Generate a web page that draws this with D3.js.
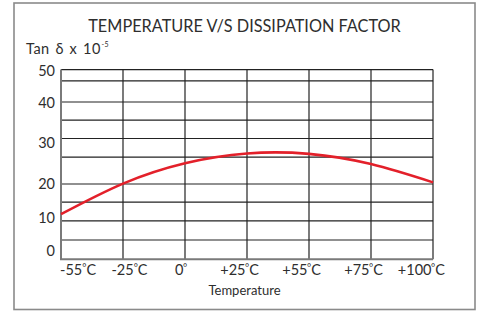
<!DOCTYPE html>
<html>
<head>
<meta charset="utf-8">
<script src="https://cdn.jsdelivr.net/npm/d3@7"></script>
<style>
  html, body { margin: 0; padding: 0; background: #fff; }
  svg { display: block; }
  text { font-family: Lato, "Open Sans", sans-serif; fill: #2e2e2e; }
</style>
</head>
<body>
<svg id="chart" width="479" height="311"></svg>
<script>
// ---- data ----
const title = "TEMPERATURE V/S DISSIPATION FACTOR";
const yAxisTitle = "Tan δ x 10";
const yAxisExponent = "-5";
const xAxisTitle = "Temperature";
const categories = ["-55", "-25", "0", "+25", "+55", "+75", "+100"];
const categoryUnits = ["°C", "°C", "°", "°C", "°C", "°C", "°C"];
const dissipation = [11.2, 20.1, 25.1, 27.5, 27.4, 24.9, 20.4];
const yTickValues = [0, 10, 20, 30, 40, 50];
const yTickLabels = ["0", "10", "20", "30", "40", "50"];
// horizontal grid lines as drawn in the source (irregular spacing)
const yGridValues = [3.3, 9.2, 14.7, 20, 26.6, 31.2, 35.8, 40.4, 46.9];
const yFrame = [-2.65, 50.35];

// ---- layout ----
const svg = d3.select("#chart");
const plotLeft = 61, plotRight = 433;

// The source axis is not evenly spaced; anchor scale on its printed labels
const y = d3.scaleLinear()
  .domain(yTickValues)
  .range([250.7, 218.3, 184, 143.3, 103.3, 70.7]);
const x = d3.scalePoint().domain(categories).range([plotLeft, plotRight]);

const plotTop = y(yFrame[1]), plotBottom = y(yFrame[0]);

// outer border
svg.append("rect")
  .attr("x", 14).attr("y", 3).attr("width", 461).attr("height", 306.5)
  .attr("fill", "none").attr("stroke", "#8a8a8a").attr("stroke-width", 1.6);

// title
svg.append("text")
  .attr("x", 244.5).attr("y", 32)
  .attr("text-anchor", "middle")
  .attr("font-size", 16.3)
  .text(title);

// y axis title
const yt = svg.append("text").attr("x", 26).attr("y", 53.5).attr("font-size", 14.5)
  .attr("letter-spacing", 0.5).attr("word-spacing", 1.5);
yt.append("tspan").text(yAxisTitle);
yt.append("tspan").attr("font-size", 7).attr("dy", -7).attr("dx", 0.5).text(yAxisExponent);

// horizontal grid lines
svg.append("g").selectAll("line")
  .data(yGridValues.concat([yFrame[1]]))
  .join("line")
  .attr("x1", plotLeft).attr("x2", plotRight)
  .attr("y1", d => y(d)).attr("y2", d => y(d))
  .attr("stroke", "#222").attr("stroke-width", 1.2);

// vertical grid lines
svg.append("g").selectAll("line")
  .data(categories.slice(1))
  .join("line")
  .attr("x1", d => x(d)).attr("x2", d => x(d))
  .attr("y1", plotTop).attr("y2", plotBottom)
  .attr("stroke", "#222").attr("stroke-width", 1.2);

// left axis labels
const yAxis = d3.axisLeft(y).tickValues(yTickValues)
  .tickFormat((d, i) => yTickLabels[i]).tickSize(0).tickPadding(6);
const gy = svg.append("g").attr("transform", `translate(${plotLeft},0)`).call(yAxis);
gy.select(".domain").remove();
gy.selectAll("text").attr("font-size", 14.5).attr("fill", "#2e2e2e")
  .attr("font-family", "Lato, 'Open Sans', sans-serif");

// left and bottom axis lines (gray)
svg.append("line").attr("x1", plotLeft).attr("x2", plotLeft).attr("y1", plotTop).attr("y2", plotBottom)
  .attr("stroke", "#7a7a7a").attr("stroke-width", 2);
svg.append("line").attr("x1", plotLeft - 1).attr("x2", plotRight).attr("y1", plotBottom).attr("y2", plotBottom)
  .attr("stroke", "#7a7a7a").attr("stroke-width", 2);

// x labels: degree sign mostly aligned on the grid line
const xl = svg.append("g");
function addUnit(t, unit) {
  t.append("tspan").attr("font-size", 10).attr("dy", -4).text("°");
  if (unit.length > 1) t.append("tspan").attr("dy", 4).text(unit.slice(1));
}
categories.forEach((c, i) => {
  const px = x(c);
  const fs = 14.5;
  if (i === 0) {
    const t = xl.append("text").attr("y", 275).attr("font-size", fs)
      .attr("x", plotLeft - 1).attr("text-anchor", "start");
    t.append("tspan").text(c);
    addUnit(t, categoryUnits[i]);
  } else if (i === 1) {
    const t = xl.append("text").attr("y", 275).attr("font-size", fs)
      .attr("x", px + 6.5).attr("text-anchor", "middle");
    t.append("tspan").text(c);
    addUnit(t, categoryUnits[i]);
  } else {
    xl.append("text").attr("y", 275).attr("font-size", fs)
      .attr("x", px - 1.5).attr("text-anchor", "end").text(c);
    const u = xl.append("text").attr("x", px - 2).attr("y", 275).attr("font-size", fs);
    addUnit(u, categoryUnits[i]);
  }
});

// x axis title
svg.append("text")
  .attr("x", 244.5).attr("y", 295)
  .attr("text-anchor", "middle").attr("font-size", 13)
  .text(xAxisTitle);

// curve
const line = d3.line()
  .x((d, i) => x(categories[i]))
  .y(d => y(d))
  .curve(d3.curveNatural);
svg.append("path")
  .datum(dissipation)
  .attr("d", line)
  .attr("fill", "none")
  .attr("stroke", "#e3202a")
  .attr("stroke-width", 2.6);
</script>
</body>
</html>
